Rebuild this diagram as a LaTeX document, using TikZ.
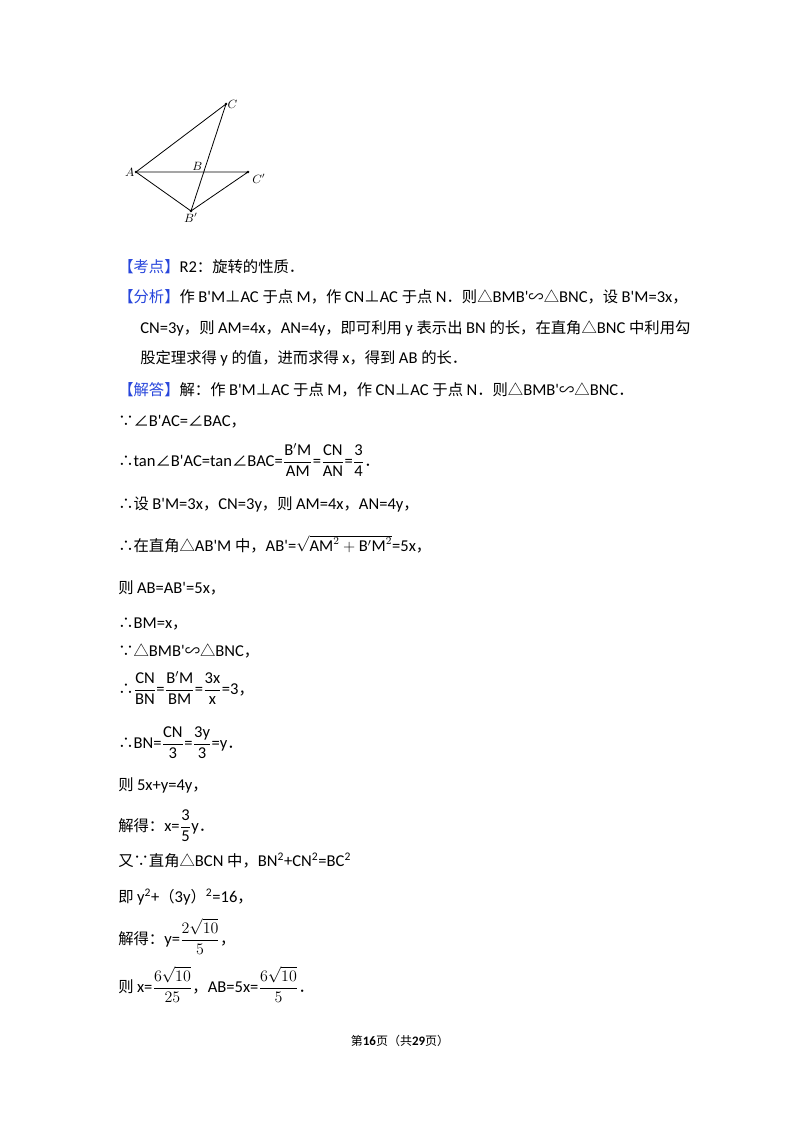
\documentclass[tikz,border=0pt]{standalone}
\usepackage{amsmath}
\usepackage{fontspec}
\setmainfont{Carlito}[Scale=1.08]
\newfontfamily\cjk{Noto Sans CJK SC}
\newfontfamily\latin{Carlito}[Scale=1.08]
% automatic font switch for Chinese characters
\newXeTeXintercharclass\cjkclass
\newcount\cc
\cc="4E00 \loop\XeTeXcharclass\cc=\cjkclass \advance\cc 1 \ifnum\cc<"A000 \repeat
\cc="3000 \loop\XeTeXcharclass\cc=\cjkclass \advance\cc 1 \ifnum\cc<"3040 \repeat
\cc="FF00 \loop\XeTeXcharclass\cc=\cjkclass \advance\cc 1 \ifnum\cc<"FFF0 \repeat
\XeTeXcharclass"2220=\cjkclass \XeTeXcharclass"2234=\cjkclass
\XeTeXcharclass"2235=\cjkclass \XeTeXcharclass"22A5=\cjkclass
\XeTeXcharclass"25B3=\cjkclass \XeTeXcharclass"223D=\cjkclass
\XeTeXinterchartoks 0 \cjkclass = {\cjk}
\XeTeXinterchartoks 4095 \cjkclass = {\cjk}
\XeTeXinterchartoks \cjkclass 0 = {\latin}
\XeTeXinterchartoks 4095 0 = {\latin}
\XeTeXinterchartokenstate=1
\definecolor{headblue}{RGB}{40,70,220}
\tikzset{
  txt/.style={anchor=base west, inner sep=0pt, font=\fontsize{11.5}{14}\selectfont},
  pt/.style={circle, fill, inner sep=0pt, minimum size=2pt},
  lbl/.style={font=\fontsize{9}{10}\selectfont\rmfamily\itshape, inner sep=1pt}
}
\newcommand{\hd}[1]{\textcolor{headblue}{【#1】}}
\newcommand{\fr}[2]{$\dfrac{\mathrm{#1}}{\mathrm{#2}}$}
\begin{document}
\begin{tikzpicture}[x=0.75pt,y=-0.75pt]
	\useasboundingbox[fill=white] (0,0) rectangle (800,1132);

	% figure points
	\coordinate (A) at (136,172);
	\coordinate (C) at (226,104);
	\coordinate (Bp) at (191,211);
	\coordinate (Cp) at (248,172);
	\coordinate (B) at (204,172);
	\draw[line width=0.6pt] (A) -- (C) -- (Bp) -- cycle;
	\draw[line width=0.6pt] (A) -- (Cp) -- (Bp);
	\foreach \p in {A,C,Bp,Cp} \node[pt] at (\p) {};
	\node[lbl, left] at (A) {$A$};
	\node[lbl, right] at (C) {$C$};
	\node[lbl, above left] at (B) {$B$};
	\node[lbl, below right, xshift=2pt] at (Cp) {$C'$};
	\node[lbl, below] at (Bp) {$B'$};

	% text lines
	\node[txt] (l1) at (118,272) {\hd{考点}R2：旋转的性质．};
	\node[txt] (l2) at (118,302) {\hd{分析}作 B'M⊥AC 于点 M，作 CN⊥AC 于点 N．则△BMB'∽△BNC，设 B'M=3x，};
	\node[txt] (l3) at (140,333) {CN=3y，则 AM=4x，AN=4y，即可利用 y 表示出 BN 的长，在直角△BNC 中利用勾};
	\node[txt] (l4) at (140,363) {股定理求得 y 的值，进而求得 x，得到 AB 的长．};
	\node[txt] (l5) at (118,395) {\hd{解答}解：作 B'M⊥AC 于点 M，作 CN⊥AC 于点 N．则△BMB'∽△BNC．};
	\node[txt] (l6) at (118,426) {∵∠B'AC=∠BAC，};
	\node[txt] (l7) at (118,466) {∴tan∠B'AC=tan∠BAC=\fr{B'M}{AM}=\fr{CN}{AN}=\fr{3}{4}．};
	\node[txt] (l8) at (118,509) {∴设 B'M=3x，CN=3y，则 AM=4x，AN=4y，};
	\node[txt] (l9) at (118,551) {∴在直角△AB'M 中，AB'=$\sqrt{\mathrm{AM}^2+\mathrm{B'M}^2}$=5x，};
	\node[txt] (l10) at (118,593) {则 AB=AB'=5x，};
	\node[txt] (l11) at (118,628) {∴BM=x，};
	\node[txt] (l12) at (118,656) {∵△BMB'∽△BNC，};
	\node[txt] (l13) at (118,694) {∴\fr{CN}{BN}=\fr{B'M}{BM}=\fr{3x}{x}=3，};
	\node[txt] (l14) at (118,748) {∴BN=\fr{CN}{3}=\fr{3y}{3}=y．};
	\node[txt] (l15) at (118,790) {则 5x+y=4y，};
	\node[txt] (l16) at (118,831) {解得：x=\fr{3}{5}y．};
	\node[txt] (l17) at (118,866) {又∵直角△BCN 中，BN\textsuperscript{2}+CN\textsuperscript{2}=BC\textsuperscript{2}};
	\node[txt] (l18) at (118,902) {即 y\textsuperscript{2}+（3y）\textsuperscript{2}=16，};
	\node[txt] (l19) at (118,944) {解得：y=$\dfrac{2\sqrt{10}}{5}$，};
	\node[txt] (l20) at (118,992) {则 x=$\dfrac{6\sqrt{10}}{25}$，AB=5x=$\dfrac{6\sqrt{10}}{5}$．};

	% footer
	\node[anchor=base, inner sep=0pt, font=\fontsize{9}{10}\selectfont] (foot) at (400,1045) {第\textbf{16}页（共\textbf{29}页）};
\end{tikzpicture}
\end{document}
